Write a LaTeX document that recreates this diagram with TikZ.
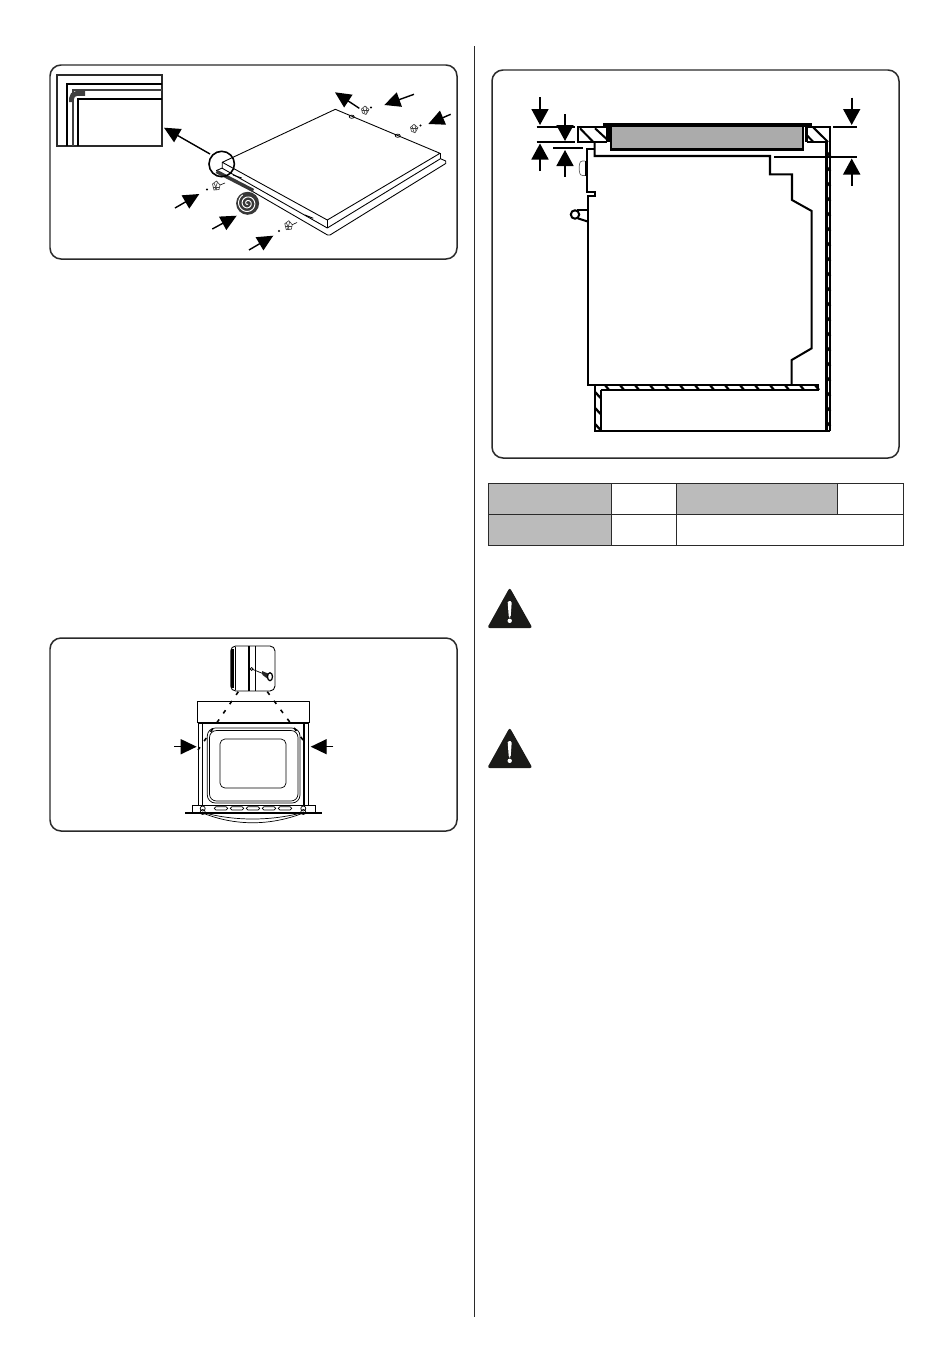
\documentclass[tikz,border=0pt]{standalone}
\usepackage[]{xcolor}
\usepackage{tikz}
\usetikzlibrary{arrows.meta}
\definecolor{panelgrey}{HTML}{2A2A2A}
\definecolor{tablegrey}{HTML}{BBBBBB}
\definecolor{hobgrey}{HTML}{ABABAB}
\definecolor{signblack}{HTML}{1A1A18}
\tikzset{
  panel/.style = {draw=panelgrey, line width=0.85pt, rounded corners=2.2mm},
  pointer/.style = {-{Triangle[length=3.2mm,width=3mm]}, line width=0.8pt},
  dimarrow/.style = {-{Triangle[length=3.2mm,width=3.4mm]}, line width=1pt},
  outline/.style = {line width=0.5pt, line join=round},
  wall/.style = {line width=1.15pt, line join=miter},
  dotline/.style = {dash pattern=on 2.2pt off 4.2pt, line width=0.9pt},
  screw/.style = {line width=0.35pt, black!75},
  cell/.style = {fill=tablegrey},
  rule/.style = {line width=0.7pt, draw=panelgrey}
}
\begin{document}
\begin{tikzpicture}[x=0.2mm, y=-0.2mm]
\fill[white] (0,0) rectangle (950,1364);
\useasboundingbox (0,0) rectangle (950,1364);

\draw[line width=0.45pt, panelgrey](474,46) -- (474,1317);
\draw[panel](50,65) rectangle (457,259);
\draw[panel](50,638) rectangle (457,831);
\draw[panel](492,70) rectangle (899,458);

% inset corner
\draw[line width=1pt, panelgrey](57,75) rectangle (162,146);
\draw[line width=1pt](162,84) -- (66.7,84) -- (66.7,146);
\draw[line width=1.3pt, black!75](162,90) -- (73.3,90) -- (73.3,146);
\draw[line width=2.8pt, black!75, rounded corners=1mm](85,93.5) -- (71.5,93.5) -- (71.5,102);
\draw[line width=1pt](162,99) -- (78.3,99) -- (78.3,146);

% hob
\draw[outline](222.3,162.3) -- (335.3,109.3) -- (440,153.3) -- (327.3,220) -- cycle;
\draw[outline](222.3,162.3) -- (222.3,168.3) -- (327.3,228) -- (440,159);
\draw[outline](327.3,220) -- (327.3,228);
\draw[outline](440,153.3) -- (440,159);
\draw[outline](222.3,168) -- (216.5,170.5) -- (327.5,235) -- (330,235) -- (445.7,163.5) -- (445.7,161) -- (440,158.5);
\draw[line width=2pt, black!78](216.5,171.5) -- (253.3,190.5);
\draw[outline](233,175) -- (241.7,178);
\draw[outline](305,215) -- (313.3,218.3);
\draw[line width=0.4pt](351.7,116.7) ellipse (2.5 and 1.6);
\draw[line width=0.4pt](397.7,135.7) ellipse (2.5 and 1.6);
\draw[line width=0.9pt](221.7,164) circle (12.7);

% tape roll
\fill[black!78](247.6,203.3) circle (11.5);
\draw[white, line width=0.55pt] plot[domain=60:960, samples=120]
  ({247.6+\x/960*9.6*cos(\x)}, {203.3+\x/960*9.6*sin(\x)});

% screws
\draw[screw](361.5,109) -- (365,106) -- (369,109.5) -- (366,114.5) -- (362.5,113) -- cycle;
\draw[screw](363,108) -- (365,113.5);
\draw[screw](366,106.5) -- (367,113);
\draw[screw](361.5,110.5) -- (368.5,110.5);
\fill(371,107.5) circle (1.1);
\draw[screw](410.5,127.3) -- (414,124.3) -- (418,127.8) -- (415,132.8) -- (411.5,131.3) -- cycle;
\draw[screw](412,126.3) -- (414,131.8);
\draw[screw](415,124.8) -- (416,131.3);
\draw[screw](410.5,128.8) -- (417.5,128.8);
\fill(420.5,125.5) circle (1.1);
\draw[screw](212.5,184) -- (216.5,181) -- (220,185) -- (219,189.5) -- (214,190) -- cycle;
\draw[screw](214,183) -- (217,190);
\draw[screw](217.5,182) -- (215,190);
\draw[screw](212.5,187) -- (220,187);
\fill(207,189.5) circle (1.1);
\draw[screw](284.8,223.7) -- (288.8,220.7) -- (292.3,224.7) -- (291.3,229.2) -- (286.3,229.7) -- cycle;
\draw[screw](286.3,222.7) -- (289.3,229.7);
\draw[screw](289.8,221.7) -- (287.3,229.7);
\draw[screw](284.8,226.7) -- (292.3,226.7);
\fill(279,231) circle (1.1);
\draw[line width=0.35pt](220,185) -- (225,183);
\draw[line width=0.35pt](292.3,224.7) -- (297,222.5);

\draw[pointer](210,154) -- (164,127.7);
\draw[pointer](359.3,108.3) -- (335,92.3);
\draw[pointer](414,94.3) -- (384.3,105);
\draw[pointer](450.7,114.3) -- (428.3,124);
\draw[pointer](175,208) -- (199.3,194);
\draw[pointer](212.3,229) -- (236.7,215.7);
\draw[pointer](249,250) -- (273.3,235.7);

% oven front, screw detail
\draw[outline, rounded corners=1mm](230.7,646) rectangle (275,691);
\draw[line width=1.7pt](249,646) -- (249,691);
\draw[line width=0.5pt](255.7,646) -- (255.7,691);
\draw[line width=1.3pt](232.5,649) -- (232.5,688);
\draw[line width=0.5pt](235.5,647) -- (235.5,690);
\draw[line width=0.4pt](251.7,669) -- (264,674);
\draw[line width=0.4pt](251.7,669) circle (1.5);
\fill[black!85](262,671) -- (268,673.5) -- (268,679) -- (262.5,675) -- cycle;
\draw[line width=0.7pt, fill=white](270,676.7) ellipse (2.5 and 4);
\draw[dotline](238.3,691.7) -- (198,750);
\draw[dotline](267.3,691.7) -- (306.7,745);
\draw[outline](197.7,723.3) -- (197.7,701.7) -- (309,701.7) -- (309,723.3);
\draw[line width=1pt](197.7,723.3) -- (309,723.3);
\draw[line width=0.9pt](198.3,723.3) -- (198.3,805);
\draw[line width=0.9pt](202.7,723.3) -- (202.7,805);
\draw[line width=0.9pt](304,723.3) -- (304,805);
\draw[line width=0.9pt](308.3,723.3) -- (308.3,805);
\draw[line width=0.4pt, rounded corners=1.6mm](207.3,728) rectangle (300,803);
\draw[line width=0.4pt, rounded corners=1.4mm](209.5,730.5) rectangle (298,801);
\draw[line width=0.4pt, rounded corners=1mm](220,739) rectangle (286,788);
\draw[line width=0.4pt](192.7,812) -- (192.7,805) -- (315,805) -- (315,812);
\draw[line width=1.1pt](185,812.7) -- (321.7,812.7);
\draw[line width=0.4pt, rounded corners=0.3mm](214.3,806.7) rectangle (227.7,810);
\draw[line width=0.4pt, rounded corners=0.3mm](230.3,806.7) rectangle (243.7,810);
\draw[line width=0.4pt, rounded corners=0.3mm](246.3,806.7) rectangle (259.7,810);
\draw[line width=0.4pt, rounded corners=0.3mm](262.3,806.7) rectangle (275.7,810);
\draw[line width=0.4pt, rounded corners=0.3mm](278.3,806.7) rectangle (291.7,810);
\draw[line width=0.4pt](202.7,808.5) circle (2.5);
\draw[line width=0.4pt](202.7,812) circle (2.5);
\draw[line width=0.4pt](303.3,808.5) circle (2.5);
\draw[line width=0.4pt](303.3,812) circle (2.5);
\draw[line width=0.4pt](202.7,813) .. controls (235,826) and (270,826) .. (303.3,813);
\draw[line width=0.4pt](205,813) .. controls (235,821) and (270,821) .. (301,813);
\draw[pointer](174,746.7) -- (196.7,746.7);
\draw[pointer](333.3,746.7) -- (310.7,746.7);

% housing section
\fill[hobgrey](610.7,127) rectangle (803.3,149);
\draw[wall](610.7,127) -- (610.7,149.5) -- (803.3,149.5) -- (803.3,127);
\draw[line width=2pt](603.3,125) -- (811.7,125);
\draw[line width=2pt](608,125) -- (608,142);
\draw[line width=2pt](806.3,125) -- (806.3,142);
\draw[wall](607,127) -- (578.3,127) -- (578.3,142) -- (607,142);
\draw[wall](580,128.3) -- (593.3,142);
\draw[wall](595,128.3) -- (607.7,140);
\draw[wall](807,127) -- (830.4,127) -- (830.4,431);
\draw[wall](807,142) -- (826.5,142) -- (826.5,431);
\draw[wall](813.3,127.5) -- (828,142);
\draw[wall](806.7,135) -- (813.3,142);
\foreach \yy in {152,167,...,427}
  \draw[line width=1.4pt](826.5,\yy) -- (830.4,\yy+4);
\draw[wall](594.6,142) -- (594.6,156) -- (770,156) -- (770,174.3) -- (792,174.3) -- (792,200)
  -- (811.7,211) -- (811.7,348.3) -- (791.7,360) -- (791.7,385);
\draw[wall](594,149) -- (586.9,149) -- (586.9,191.7) -- (595,191.7) -- (595,196)
  -- (588.3,196) -- (588.3,385) -- (818.3,385) -- (818.3,390) -- (600.7,390);
\foreach \xx in {605,620,...,815}
  \draw[line width=1.3pt](\xx,385) -- (\xx+4,390);
\draw[wall](595,385) -- (595,431) -- (830.4,431);
\draw[wall](600.7,390) -- (600.7,431);
\draw[line width=1.3pt](595,392) -- (600.7,398);
\draw[line width=1.3pt](595,408) -- (600.7,414);
\draw[line width=1.3pt](595,424) -- (600.7,430);
\draw[line width=0.4pt, rounded corners=0.5mm, black!60](585,161) -- (580,161) -- (579,168) -- (580,175.5) -- (585,175.5);
\draw[line width=0.9pt](585.3,161) -- (585.3,175.5);
\draw[wall](576.7,210) -- (588.3,210);
\draw[wall](577.7,218.3) -- (588.3,221.7);
\draw[wall](575,214.5) circle (4.2);

% dimension lines
\draw[wall](536.7,126.7) -- (575,126.7);
\draw[wall](536.7,141.7) -- (575,141.7);
\draw[wall](553.3,148.3) -- (583.3,148.3);
\draw[wall](833.3,126.7) -- (857.3,126.7);
\draw[wall](774,156.7) -- (857.3,156.7);
\draw[dimarrow](540,97.3) -- (540,125);
\draw[dimarrow](565,114.3) -- (565,141);
\draw[dimarrow](540,171) -- (540,143.5);
\draw[dimarrow](565,176.7) -- (565,150);
\draw[dimarrow](851.7,97.7) -- (851.7,125);
\draw[dimarrow](851.7,185.7) -- (851.7,158.5);

% table
\fill[cell](488.3,483.7) rectangle (611.3,514.3);
\fill[cell](676.7,483.7) rectangle (837.7,514.3);
\fill[cell](488.3,514.3) rectangle (611.3,545.3);
\draw[rule](488.3,483.7) rectangle (903.3,545.3);
\draw[rule](488.3,514.3) -- (903.3,514.3);
\draw[rule](611.3,483.7) -- (611.3,545.3);
\draw[rule](676.7,483.7) -- (676.7,545.3);
\draw[rule](837.7,483.7) -- (837.7,514.3);

% warning signs
\fill[signblack, rounded corners=0.5mm](509.7,587.5) -- (532.5,628) -- (487.2,628) -- cycle;
\fill[white, rounded corners=0.3mm](507.6,601) -- (511.8,601) -- (510.6,617.5) -- (508.8,617.5) -- cycle;
\fill[white](509.7,620.8) circle (2.2);
\fill[signblack, rounded corners=0.5mm](509.7,727.5) -- (532.5,768) -- (487.2,768) -- cycle;
\fill[white, rounded corners=0.3mm](507.6,741) -- (511.8,741) -- (510.6,757.5) -- (508.8,757.5) -- cycle;
\fill[white](509.7,760.8) circle (2.2);
\end{tikzpicture}
\end{document}
